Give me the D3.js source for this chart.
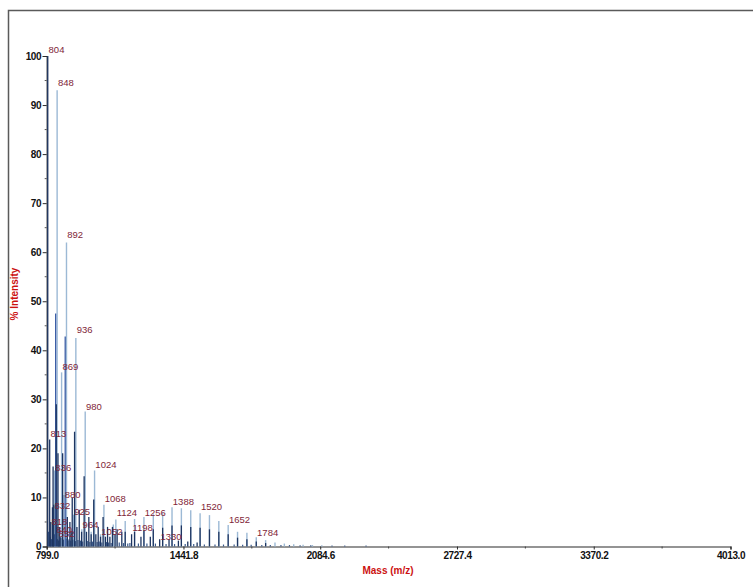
<!DOCTYPE html>
<html>
<head>
<meta charset="utf-8">
<script src="https://cdn.jsdelivr.net/npm/d3@7"></script>
<style>
  body { margin: 0; background: #fff; }
  svg { display: block; }
</style>
</head>
<body>
<script>
// tick labels of the mass axis
let xTickValues = [799.0, 1441.8, 2084.6, 2727.4, 3370.2, 4013.0]

// light trace (tall labelled series)
let lightMass = [836, 848, 869, 880, 892, 925, 936, 964, 980, 1008, 1024, 1052, 1068, 1112, 1124, 1168, 1212, 1256, 1300, 1344, 1388, 1432, 1476, 1520, 1564, 1608, 1652, 1696, 1740, 1784, 1828, 1872, 1916, 1960, 2004, 2048, 2092]
let lightInt  = [15.5, 93, 35.5, 10.5, 62, 6.5, 42.5, 3.5, 27.5, 3, 15.5, 2.5, 8.5, 4.5, 5.5, 5.2, 5.6, 6, 6.6, 7, 8, 7.8, 7.4, 6.8, 6.4, 5.2, 4.4, 3, 2.8, 1.9, 1.3, 0.8, 0.6, 0.45, 0.35, 0.3, 0.25]

// mid-blue trace
let midMass = [841, 886]
let midInt  = [47.5, 42.8]

// dark trace
let darkMass = [804, 813, 818, 826, 829, 832, 844, 852, 858, 862, 874, 896, 908, 914, 919, 930, 941, 952, 963, 975, 986, 997, 1008, 1020, 1030, 1041, 1052, 1064, 1075, 1085, 1096, 1108, 1120, 1130, 1152, 1168, 1198, 1212, 1242, 1256, 1286, 1300, 1330, 1344, 1374, 1388, 1418, 1432, 1462, 1476, 1506, 1520, 1564, 1608, 1652, 1696, 1740, 1784, 1828]
let darkInt  = [100, 21.8, 5, 8, 16.3, 8.5, 29, 19, 4, 2, 19, 6, 5, 3, 10, 23.4, 4, 7.5, 3, 14.3, 3, 6, 2.5, 9.6, 2.5, 4, 2, 6, 2, 4, 2, 4, 2.5, 3.5, 3, 3, 2.5, 3, 2, 3.2, 2, 3.5, 1.5, 3.8, 1.5, 4.3, 1.2, 4.3, 1, 4, 0.8, 3.8, 3.5, 3, 2.5, 1.8, 1.5, 1, 0.7]

// low level baseline peaks
let noiseMass = [808, 816, 822, 835, 850, 855, 866, 878, 890, 900, 904, 912, 922, 934, 946, 958, 968, 992, 1002, 1014, 1036, 1046, 1058, 1080, 1090, 1102, 1140, 1160, 1180, 1190, 1230, 1270, 1310, 1360, 1400, 1450, 1490, 1540, 1590, 1630, 1680, 1720, 1760, 1810, 1850, 1900, 1940, 1990, 2040, 2140, 2200, 2300]
let noiseInt  = [3, 2, 1.5, 2.5, 1.5, 1.2, 1.8, 1.4, 1.6, 1.2, 1.5, 1.2, 1.4, 1.1, 1.3, 1.2, 1, 1.1, 0.9, 1, 0.9, 1, 0.8, 0.9, 0.8, 0.7, 0.8, 0.7, 0.6, 0.7, 0.6, 0.6, 0.6, 0.5, 0.5, 0.5, 0.5, 0.4, 0.4, 0.4, 0.4, 0.35, 0.35, 0.3, 0.3, 0.3, 0.3, 0.25, 0.25, 0.2, 0.2, 0.2]

// peak annotations
let labelMass = [804, 848, 892, 936, 869, 980, 813, 836, 1024, 880, 1068, 832, 925, 1124, 1256, 1388, 1520, 818, 964, 1198, 1652, 840, 1052, 852, 1784, 1330]
let labelInt  = [100, 93.2, 62.3, 43, 35.4, 27.3, 21.8, 14.7, 15.3, 9.2, 8.4, 7, 5.9, 5.6, 5.6, 7.8, 6.8, 3.7, 3.1, 2.5, 4.1, 2.2, 1.8, 1.4, 1.6, 0.8]

let width = 753
let height = 587
let font = "'Liberation Sans', Arial, Helvetica, sans-serif"

let svg = d3.select('body')
  .append('svg')
  .attr('width', width)
  .attr('height', height)

// frame (cut off on the right and bottom)
svg.append('rect')
  .attr('x', 8.5)
  .attr('y', 10.5)
  .attr('width', 800)
  .attr('height', 700)
  .attr('fill', 'none')
  .attr('stroke', '#5a5a5a')
  .attr('stroke-width', 1.5)

let scaleX = d3.scaleLinear()
  .domain([799.0, 4013.0])
  .range([46.7, 730.5])

let scaleY = d3.scaleLinear()
  .domain([0, 100])
  .range([546.5, 56])

// y axis
let yAxis = d3.axisLeft(scaleY)
  .tickValues(d3.range(0, 101, 10))
  .tickSize(4)
  .tickPadding(1.5)
  .tickFormat(d3.format('d'))

let gy = svg.append('g')
  .attr('transform', 'translate(46.7,0)')
  .call(yAxis)
gy.select('.domain').attr('stroke', '#2a2a2a').attr('stroke-width', 1.2)
gy.selectAll('.tick line').attr('stroke', '#2a2a2a')
gy.selectAll('.tick text')
  .attr('font-family', font)
  .attr('font-size', 10)
  .attr('font-weight', 'bold')
  .attr('fill', '#111')
  .attr('letter-spacing', -0.4)

// minor y ticks
svg.append('g')
  .selectAll('line')
  .data(d3.range(5, 100, 10))
  .enter()
  .append('line')
  .attr('x1', 44.7)
  .attr('x2', 46.7)
  .attr('y1', d => scaleY(d))
  .attr('y2', d => scaleY(d))
  .attr('stroke', '#555')

// x axis
let xAxis = d3.axisBottom(scaleX)
  .tickValues(xTickValues)
  .tickSize(3)
  .tickPadding(2)
  .tickFormat(d3.format('.1f'))

let gx = svg.append('g')
  .attr('transform', 'translate(0,' + scaleY(0) + ')')
  .call(xAxis)
gx.select('.domain').attr('stroke', '#2a2a2a').attr('stroke-width', 1.2)
gx.selectAll('.tick line').attr('stroke', '#2a2a2a')
gx.selectAll('.tick text')
  .attr('font-family', font)
  .attr('font-size', 10)
  .attr('font-weight', 'bold')
  .attr('fill', '#111')
  .attr('letter-spacing', -0.4)

// minor x ticks at the half intervals
let minorX = d3.pairs(xTickValues).map(p => (p[0] + p[1]) / 2)
svg.append('g')
  .selectAll('line')
  .data(minorX)
  .enter()
  .append('line')
  .attr('x1', d => scaleX(d))
  .attr('x2', d => scaleX(d))
  .attr('y1', scaleY(0))
  .attr('y2', scaleY(0) + 2)
  .attr('stroke', '#444')

function drawSticks(masses, ints, color, w) {
  svg.append('g')
    .selectAll('line')
    .data(masses.map((m, i) => ({m: m, v: ints[i]})))
    .enter()
    .append('line')
    .attr('x1', d => scaleX(d.m))
    .attr('x2', d => scaleX(d.m))
    .attr('y1', scaleY(0))
    .attr('y2', d => scaleY(d.v))
    .attr('stroke', color)
    .attr('stroke-width', w)
}

drawSticks(lightMass, lightInt, '#9cb9d5', 1.4)
drawSticks(noiseMass, noiseInt, '#3b5a8c', 1.2)
drawSticks(midMass, midInt, '#3c5ea6', 1.3)
drawSticks(darkMass, darkInt, '#1d3561', 1.3)

// peak labels
svg.append('g')
  .selectAll('text')
  .data(labelMass.map((m, i) => ({m: m, v: labelInt[i]})))
  .enter()
  .append('text')
  .attr('x', d => scaleX(d.m) + 0.8)
  .attr('y', d => scaleY(d.v) - 3)
  .attr('font-family', font)
  .attr('font-size', 9.5)
  .attr('fill', '#7f2638')
  .text(d => d.m)

// axis titles
svg.append('text')
  .attr('x', 388)
  .attr('y', 574)
  .attr('text-anchor', 'middle')
  .attr('font-family', font)
  .attr('font-size', 10)
  .attr('font-weight', 'bold')
  .attr('fill', '#cc1111')
  .text('Mass (m/z)')

svg.append('text')
  .attr('transform', 'translate(18,294) rotate(-90)')
  .attr('text-anchor', 'middle')
  .attr('font-family', font)
  .attr('font-size', 10)
  .attr('font-weight', 'bold')
  .attr('fill', '#cc1111')
  .text('% Intensity')
</script>
</body>
</html>
